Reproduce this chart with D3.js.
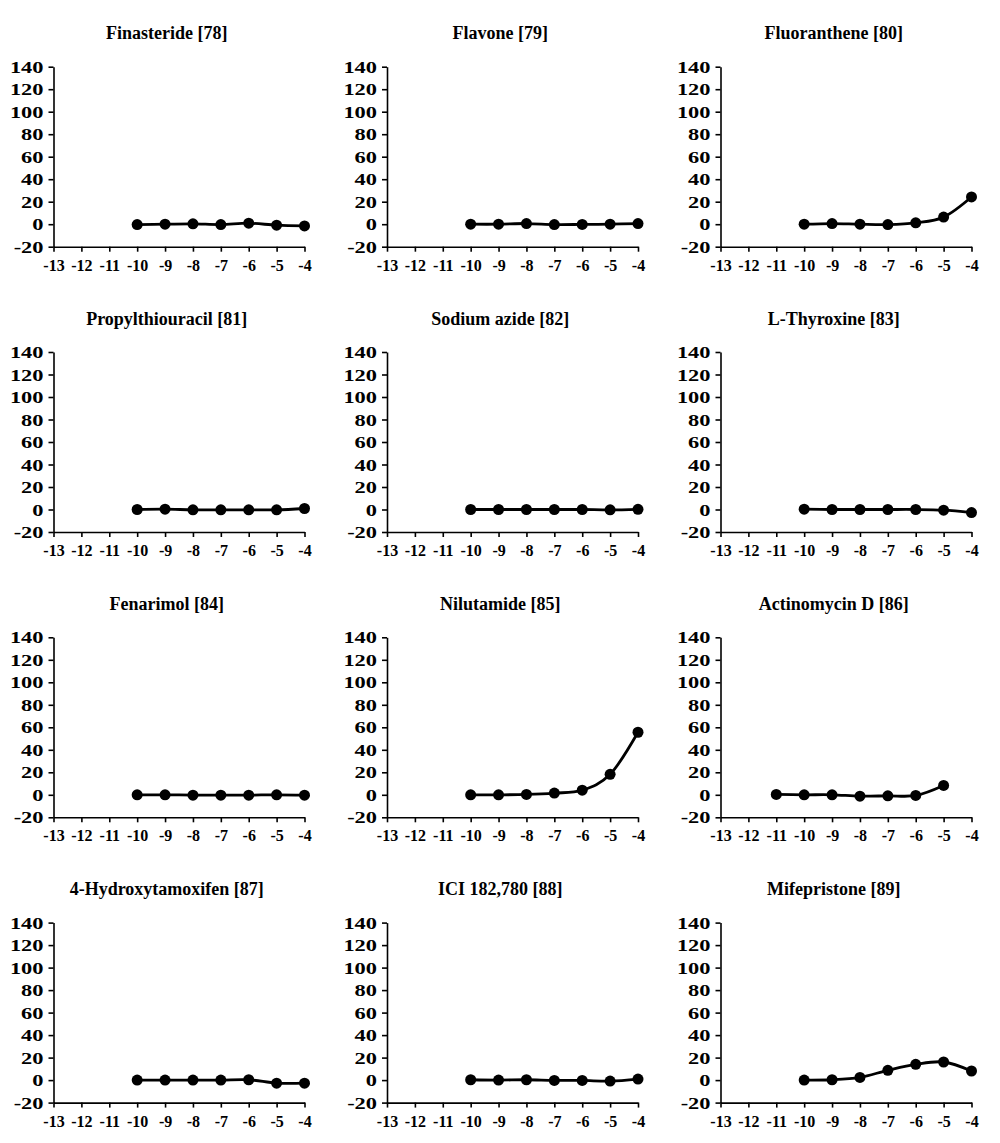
<!DOCTYPE html>
<html>
<head>
<meta charset="utf-8">
<script src="https://cdn.jsdelivr.net/npm/d3@7"></script>
<style>
  html, body { margin: 0; padding: 0; background: #fff; }
  svg text { font-family: "Liberation Serif", "Times New Roman", serif; font-weight: bold; fill: #000; }
</style>
</head>
<body>
<svg id="chart" width="1000" height="1143"></svg>
<script>
const titles = [
  "Finasteride [78]", "Flavone [79]", "Fluoranthene [80]",
  "Propylthiouracil [81]", "Sodium azide [82]", "L-Thyroxine [83]",
  "Fenarimol [84]", "Nilutamide [85]", "Actinomycin D [86]",
  "4-Hydroxytamoxifen [87]", "ICI 182,780 [88]", "Mifepristone [89]"
];
const standardDoses = [-10, -9, -8, -7, -6, -5, -4];
const actinomycinDoses = [-11, -10, -9, -8, -7, -6, -5];
const doses = [
  standardDoses, standardDoses, standardDoses,
  standardDoses, standardDoses, standardDoses,
  standardDoses, standardDoses, actinomycinDoses,
  standardDoses, standardDoses, standardDoses
];
const finasteride = [-0.3, 0, 0.3, -0.3, 0.9, -0.9, -1.5];
const flavone = [0, 0, 0.6, -0.3, -0.2, 0, 0.6];
const fluoranthene = [0, 0.6, 0, -0.3, 1.2, 6.3, 24.2];
const propylthiouracil = [0, 0.3, -0.3, -0.3, -0.3, -0.3, 0.9];
const sodiumAzide = [0, 0, 0, 0, 0, -0.3, 0.2];
const thyroxine = [0.3, 0, 0, 0, 0, -0.6, -2.7];
const fenarimol = [0, 0, -0.3, -0.3, -0.3, 0, -0.3];
const nilutamide = [0, 0, 0.3, 1.5, 4.1, 18.2, 55.6];
const actinomycin = [0.3, 0, 0, -1.2, -0.9, -0.6, 8.3];
const hydroxytamoxifen = [0, 0, 0, 0, 0.3, -2.7, -2.7];
const ici = [0.3, 0, 0.3, -0.3, -0.3, -0.9, 0.9];
const mifepristone = [0, 0.3, 2.4, 8.7, 14, 16.1, 8.1];
const responses = [
  finasteride, flavone, fluoranthene,
  propylthiouracil, sodiumAzide, thyroxine,
  fenarimol, nilutamide, actinomycin,
  hydroxytamoxifen, ici, mifepristone
];
const xTickValues = [-13, -12, -11, -10, -9, -8, -7, -6, -5, -4];
const yTickValues = [-20, 0, 20, 40, 60, 80, 100, 120, 140];

const svg = d3.select("#chart");
const cellW = 333.5;
const plotLeft = 53.5;
const plotW = 251;
const plotH = 180;
const firstTop = 66.7;
const rowStep = 285.3;

const x = d3.scaleLinear().domain([-13, -4]).range([0, plotW]);
const y = d3.scaleLinear().domain([-20, 140]).range([plotH, 0]);

const line = d3.line()
  .x(d => x(d[0]))
  .y(d => y(d[1]))
  .curve(d3.curveCardinal.tension(0));

titles.forEach((title, i) => {
  const col = i % 3, row = Math.floor(i / 3);
  const cellX = col * cellW;
  const top = firstTop + row * rowStep;

  svg.append("text")
    .attr("x", cellX + cellW / 2)
    .attr("y", top - 27.5)
    .attr("text-anchor", "middle")
    .style("font-size", "18px")
    .text(title);

  const g = svg.append("g").attr("transform", `translate(${cellX + plotLeft},${top})`);

  // y axis
  const ya = g.append("g")
    .call(d3.axisLeft(y).tickValues(yTickValues).tickSize(5).tickSizeOuter(0).tickPadding(10));
  ya.selectAll("text").remove();
  ya.selectAll(".tick").append("text")
    .attr("x", -10)
    .attr("dy", "0.35em")
    .attr("text-anchor", "end")
    .attr("transform", "translate(-10,0) scale(1.4,1) translate(10,0)")
    .style("font-size", "16px")
    .text(d => String(d));

  // x axis
  const xa = g.append("g")
    .attr("transform", `translate(0,${plotH})`)
    .call(d3.axisBottom(x).tickValues(xTickValues).tickFormat(d => String(d))
      .tickSize(5).tickSizeOuter(0).tickPadding(7));
  xa.selectAll("text")
    .attr("dy", null)
    .attr("y", 24)
    .style("font-size", "16px")
    .style("font-family", "'Liberation Serif', 'Times New Roman', serif")
    .style("font-weight", "bold");

  [ya, xa].forEach(a => {
    a.select(".domain").attr("stroke", "#000").attr("stroke-width", 1.6);
    a.selectAll(".tick line").attr("stroke", "#000").attr("stroke-width", 1.6);
  });

  const pts = doses[i].map((d, k) => [d, responses[i][k]]);
  g.append("path")
    .datum(pts)
    .attr("fill", "none")
    .attr("stroke", "#000")
    .attr("stroke-width", 2.8)
    .attr("d", line);

  g.selectAll("circle.pt")
    .data(pts)
    .enter().append("circle")
    .attr("class", "pt")
    .attr("cx", d => x(d[0]))
    .attr("cy", d => y(d[1]))
    .attr("r", 5.5)
    .attr("fill", "#000");
});
</script>
</body>
</html>
